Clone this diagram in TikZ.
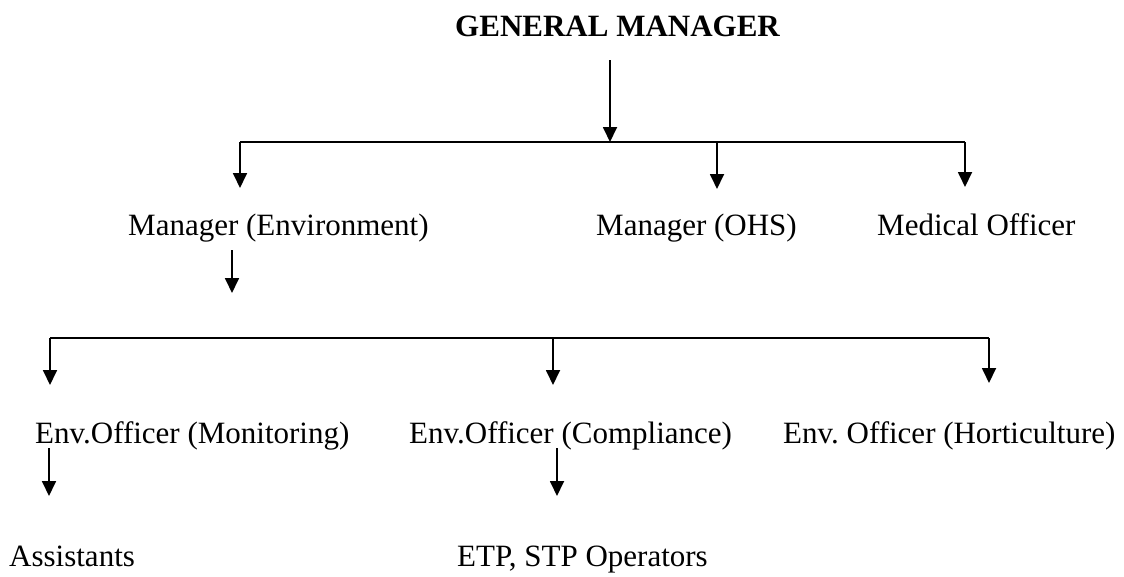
\documentclass[tikz,border=0pt]{standalone}
\usepackage{fontspec}
\setmainfont{Liberation Serif}
\usetikzlibrary{arrows.meta}
\begin{document}
\frenchspacing
\begin{tikzpicture}[x=1pt,y=-1pt,
  lbl/.style={anchor=base west,inner sep=0pt,font=\fontsize{31}{37}\selectfont},
  conn/.style={line width=1.8pt},
  arr/.style={conn,-{Triangle[width=14pt,length=15pt]}}]
\useasboundingbox (0,0) rectangle (1124,576);
% texts
\node[lbl,font=\fontsize{31}{37}\selectfont\bfseries] (gm) at (455,36) {GENERAL MANAGER};
\node[lbl] (menv) at (128,235) {Manager (Environment)};
\node[lbl] (mohs) at (596,235) {Manager (OHS)};
\node[lbl] (med) at (877,235) {Medical Officer};
\node[lbl] (mon) at (35,443) {Env.Officer (Monitoring)};
\node[lbl] (comp) at (409,443) {Env.Officer (Compliance)};
\node[lbl] (hort) at (783,443) {Env. Officer (Horticulture)};
\node[lbl] (asst) at (9,566) {Assistants};
\node[lbl] (etp) at (457,566) {ETP, STP Operators};
% coordinates
\coordinate (gmout) at (610,60);
\coordinate (bus1) at (610,142);
\coordinate (menvin) at (240,188);
\coordinate (mohsin) at (717,189);
\coordinate (medin) at (965,187);
\coordinate (menvout) at (232,250);
\coordinate (bus2) at (232,293);
\coordinate (bus2y) at (0,338);
\coordinate (monin) at (50,385);
\coordinate (compin) at (553,385);
\coordinate (hortin) at (989,383);
\coordinate (monout) at (49,448);
\coordinate (asstin) at (49,496);
\coordinate (compout) at (557,448);
\coordinate (etpin) at (557,496);
% level 1
\draw[arr] (gmout) -- (bus1);
\draw[conn] (menvin |- bus1) -- (medin |- bus1);
\draw[arr] (menvin |- bus1) -- (menvin);
\draw[arr] (mohsin |- bus1) -- (mohsin);
\draw[arr] (medin |- bus1) -- (medin);
% level 2
\draw[arr] (menvout) -- (bus2);
\draw[conn] (monin |- bus2y) -- (hortin |- bus2y);
\draw[arr] (monin |- bus2y) -- (monin);
\draw[arr] (compin |- bus2y) -- (compin);
\draw[arr] (hortin |- bus2y) -- (hortin);
% level 3
\draw[arr] (monout) -- (asstin);
\draw[arr] (compout) -- (etpin);
\end{tikzpicture}
\end{document}
